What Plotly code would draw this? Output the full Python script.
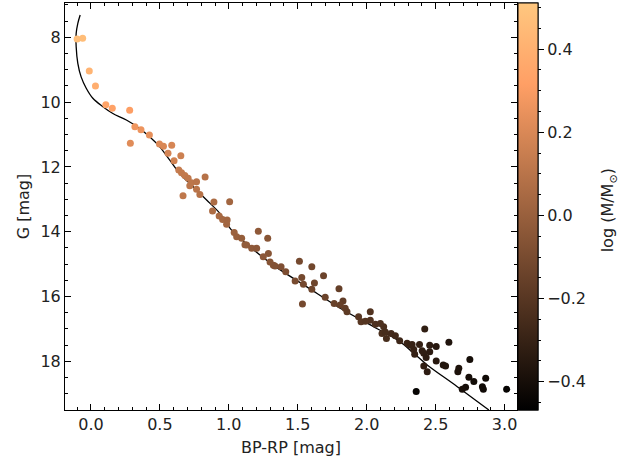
import plotly.graph_objects as go

# ---- data ----
bp_rp = [-0.100, -0.060, -0.012, 0.033, 0.108, 0.155, 0.281, 0.319, 0.363, 0.424,
         0.286, 0.497, 0.526, 0.586, 0.559, 0.652, 0.603, 0.637, 0.657, 0.681,
         0.705, 0.729, 0.766, 0.828, 0.717, 0.766, 0.790, 0.668, 0.892, 1.006,
         0.882, 0.930, 0.955, 0.988, 0.984, 1.039, 1.057, 1.093, 1.214, 1.282,
         1.129, 1.166, 1.202, 1.287, 1.250, 1.299, 1.323, 1.335, 1.379, 1.413,
         1.512, 1.481, 1.529, 1.541, 1.621, 1.687, 1.602, 1.534, 1.699, 1.799,
         1.764, 1.828, 1.844, 1.941, 1.959, 2.026, 2.026, 2.063, 2.123, 2.111,
         2.143, 2.177, 2.208, 2.239, 2.293, 2.329, 2.383, 2.421, 2.341, 2.348,
         2.402, 2.414, 2.457, 2.504, 2.457, 2.431, 2.414, 2.439, 2.596, 2.504,
         2.555, 2.572, 2.748, 2.661, 2.668, 2.741, 2.777, 2.863, 2.839, 2.846,
         2.717, 2.693, 2.359, 3.015, 1.990, 2.099, 2.135, 2.317, 1.602, 1.808,
         1.857, 1.117]
g_mag = [8.05, 8.03, 9.04, 9.50, 10.08, 10.19, 10.25, 10.76, 10.85, 11.01,
         11.27, 11.29, 11.36, 11.33, 11.58, 11.65, 11.81, 12.09, 12.18, 12.26,
         12.35, 12.49, 12.46, 12.31, 12.58, 12.69, 12.85, 12.89, 13.08, 13.07,
         13.36, 13.51, 13.62, 13.64, 13.77, 14.02, 14.15, 14.20, 13.98, 14.20,
         14.41, 14.51, 14.51, 14.67, 14.77, 14.93, 15.03, 15.06, 15.08, 15.23,
         14.91, 15.52, 15.41, 15.62, 15.58, 15.36, 15.77, 16.23, 16.02, 15.76,
         16.21, 16.14, 16.36, 16.62, 16.78, 16.47, 16.73, 16.85, 16.93, 17.14,
         17.29, 17.14, 17.21, 17.36, 17.44, 17.48, 17.48, 17.00, 17.63, 17.78,
         17.67, 17.75, 17.50, 17.54, 17.70, 17.88, 18.14, 18.32, 17.41, 17.99,
         18.11, 18.14, 17.94, 18.32, 18.21, 18.49, 18.62, 18.52, 18.78, 18.86,
         18.80, 18.86, 18.93, 18.86, 16.76, 16.83, 17.09, 17.50, 15.08, 16.26,
         16.47, 14.40]
log_mass = [0.47, 0.46, 0.42, 0.39, 0.34, 0.33, 0.31, 0.27, 0.26, 0.24,
            0.22, 0.21, 0.20, 0.19, 0.18, 0.16, 0.17, 0.14, 0.13, 0.13,
            0.12, 0.11, 0.10, 0.09, 0.11, 0.10, 0.09, 0.12, 0.06, 0.03,
            0.06, 0.05, 0.04, 0.03, 0.03, 0.01, 0.00, -0.01, -0.03, -0.05,
            -0.02, -0.03, -0.04, -0.05, -0.04, -0.06, -0.06, -0.07, -0.08, -0.09,
            -0.11, -0.10, -0.11, -0.11, -0.13, -0.14, -0.13, -0.11, -0.14, -0.16,
            -0.15, -0.17, -0.17, -0.20, -0.20, -0.22, -0.22, -0.23, -0.24, -0.24,
            -0.25, -0.26, -0.27, -0.28, -0.29, -0.30, -0.31, -0.32, -0.30, -0.31,
            -0.32, -0.32, -0.33, -0.35, -0.33, -0.33, -0.32, -0.33, -0.37, -0.35,
            -0.36, -0.36, -0.40, -0.38, -0.38, -0.40, -0.41, -0.42, -0.42, -0.42,
            -0.40, -0.39, -0.45, -0.45, -0.21, -0.23, -0.25, -0.30, -0.12, -0.16,
            -0.18, -0.02]

iso_bp_rp = [-0.078, -0.095, -0.107, -0.107, -0.095, -0.071, -0.034, 0.014, 0.087, 0.159,
             0.257, 0.353, 0.426, 0.499, 0.572, 0.644, 0.741, 0.839, 0.935, 1.020,
             1.081, 1.323, 1.566, 1.808, 2.050, 2.244, 2.341, 2.439, 2.657, 2.886]
iso_g = [7.31, 7.57, 7.88, 8.29, 8.80, 9.22, 9.57, 9.88, 10.14, 10.35,
         10.55, 10.81, 11.07, 11.38, 11.79, 12.20, 12.61, 13.02, 13.43, 13.95,
         14.20, 15.03, 15.70, 16.36, 16.93, 17.40, 17.75, 18.11, 18.78, 19.50]

x_range = [-0.188, 3.09]
y_range = [19.50, 6.94]
c_range = [-0.468, 0.511]
cbar_ticks = [-0.4, -0.2, 0.0, 0.2, 0.4]

# matplotlib "copper" colormap
copper_stops = [0.0, 0.2, 0.4, 0.6, 0.8, 0.9, 1.0]
def copper(v):
    r = min(1.0, 1.25 * v)
    gg = 0.7812 * v
    b = 0.4975 * v
    return f"rgb({round(r*255)},{round(gg*255)},{round(b*255)})"
colorscale = [[s, copper(s)] for s in copper_stops]

FONT = "DejaVu Sans"
TXT = "#222222"

fig = go.Figure()

# minor-tick-only colorbar (underneath)
fig.add_trace(go.Scatter(
    x=[None], y=[None], mode="markers", showlegend=False, hoverinfo="skip",
    marker=dict(color=[0.0], colorscale=colorscale, cmin=c_range[0], cmax=c_range[1],
                showscale=True,
                colorbar=dict(x=1.0, xanchor="left", xpad=1, y=0.5, yanchor="middle",
                              len=1.0, lenmode="fraction", ypad=0, thickness=20,
                              outlinewidth=1, outlinecolor="black",
                              tick0=0, dtick=0.05, ticks="outside", ticklen=3,
                              tickcolor="black", showticklabels=False)),
))

fig.add_trace(go.Scatter(
    x=iso_bp_rp, y=iso_g, mode="lines", line=dict(color="black", width=1.3, shape="spline"),
    showlegend=False, hoverinfo="skip",
))

fig.add_trace(go.Scatter(
    x=bp_rp, y=g_mag, mode="markers", showlegend=False,
    marker=dict(size=7, color=log_mass, colorscale=colorscale,
                cmin=c_range[0], cmax=c_range[1], line=dict(width=0),
                showscale=True,
                colorbar=dict(x=1.0, xanchor="left", xpad=1, y=0.5, yanchor="middle",
                              len=1.0, lenmode="fraction", ypad=0, thickness=20,
                              outlinewidth=1, outlinecolor="black",
                              tickvals=cbar_ticks,
                              ticktext=[f"{v:.1f}".replace("-", "\u2212") for v in cbar_ticks],
                              ticks="outside", ticklen=6, tickcolor="black",
                              tickfont=dict(family=FONT, size=16, color=TXT))),
))

fig.add_annotation(
    text="log (M/M<sub>\u2299</sub>)", textangle=-90,
    xref="paper", yref="paper", x=1.203, y=0.49, xanchor="center", yanchor="middle",
    showarrow=False, font=dict(family=FONT, size=16, color=TXT),
)

axis_common = dict(showgrid=False, zeroline=False, showline=True, linecolor="black",
                   linewidth=1, mirror="allticks", ticks="inside", ticklen=6,
                   tickcolor="black", tickfont=dict(family=FONT, size=16, color=TXT))

fig.update_xaxes(range=x_range, tickvals=[0.0, 0.5, 1.0, 1.5, 2.0, 2.5, 3.0],
                 ticktext=["0.0", "0.5", "1.0", "1.5", "2.0", "2.5", "3.0"],
                 minor=dict(dtick=0.1, tick0=0, ticks="inside", ticklen=3, tickcolor="black"),
                 title=dict(text="BP-RP [mag]", font=dict(family=FONT, size=16, color=TXT),
                            standoff=8),
                 **axis_common)
fig.update_yaxes(range=y_range, tickvals=[8, 10, 12, 14, 16, 18],
                 minor=dict(dtick=0.5, tick0=0, ticks="inside", ticklen=3, tickcolor="black"),
                 title=dict(text="G [mag]", font=dict(family=FONT, size=16, color=TXT),
                            standoff=6),
                 **axis_common)

fig.update_layout(
    width=621, height=466,
    margin=dict(l=65, r=104, t=3, b=56),
    plot_bgcolor="white", paper_bgcolor="white",
    font=dict(family=FONT, size=16, color=TXT),
)

fig.write_html("out.html")
